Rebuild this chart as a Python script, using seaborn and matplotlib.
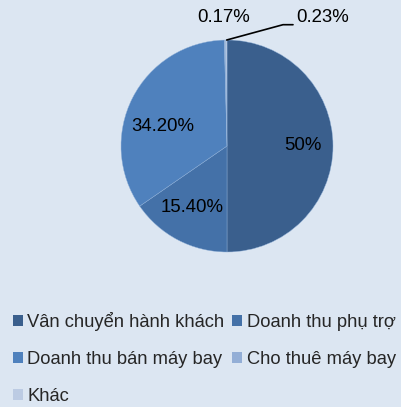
import numpy as np
import matplotlib
matplotlib.use("Agg")
import matplotlib.pyplot as plt
import seaborn as sns
from matplotlib.patches import Patch

categories = ["Vân chuyển hành khách", "Doanh thu phụ trợ", "Doanh thu bán máy bay",
              "Cho thuê máy bay", "Khác"]
values = [50.0, 15.40, 34.20, 0.17, 0.23]
value_labels = ["50%", "15.40%", "34.20%", "0.17%", "0.23%"]

colors = ["#3a5f8d", "#4471a8", "#4f81bd", "#93aed6", "#bccbe3"]
bg = "#dce6f2"

sns.set_theme(style="white")
plt.rcParams['font.family'] = ['Liberation Sans', 'DejaVu Sans']

W, H = 401, 407
fig = plt.figure(figsize=(W / 100, H / 100), dpi=100, facecolor=bg)
cx, cy, r = 227, 146, 106
ax = fig.add_axes([(cx - r) / W, (H - cy - r) / H, 2 * r / W, 2 * r / H])
ax.set_facecolor(bg)

wedges, _ = ax.pie(values, colors=colors, startangle=90, counterclock=False,
                   radius=1, wedgeprops=dict(edgecolor="#8fb0d8", linewidth=0.3))
ax.set_xlim(-1, 1)
ax.set_ylim(-1, 1)
ax.axis("off")

fs = 13.4
# inner labels: (distance factor, angle offset in degrees)
inner = {0: (0.72, 0), 1: (0.67, -2), 2: (0.63, 10)}
for i, w in enumerate(wedges):
    mid = np.deg2rad((w.theta1 + w.theta2) / 2)
    if i in inner:
        d, off = inner[i]
        a = mid + np.deg2rad(off)
        ax.text(d * np.cos(a), d * np.sin(a), value_labels[i], ha="center", va="center",
                fontsize=fs, color="black")

# small slices labels
px = lambda x: (x - cx) / r
py = lambda y: (cy - y) / r
ax.text(px(223.5), py(18), value_labels[3], ha="center", va="center", fontsize=fs, color="black")
ax.text(px(296), py(18), value_labels[4], ha="left", va="center", fontsize=fs, color="black")
ax.plot([px(226.7), px(283), px(293)], [py(40), py(24.7), py(24.7)], color="black",
        linewidth=1.2, clip_on=False)

handles = [Patch(facecolor=c, edgecolor="none") for c in colors]
order = [0, 2, 4, 1, 3]
lfs = 13.2
leg = fig.legend([handles[i] for i in order], [categories[i] for i in order],
                 ncol=2, loc="upper left", bbox_to_anchor=(13 / W, 1 - 312 / H),
                 frameon=False, fontsize=lfs, handlelength=0.52, handleheight=0.52,
                 handletextpad=0.25, columnspacing=0.45, labelspacing=1.09,
                 borderpad=0, borderaxespad=0)

fig.savefig("out.png", dpi=100, facecolor=bg)
